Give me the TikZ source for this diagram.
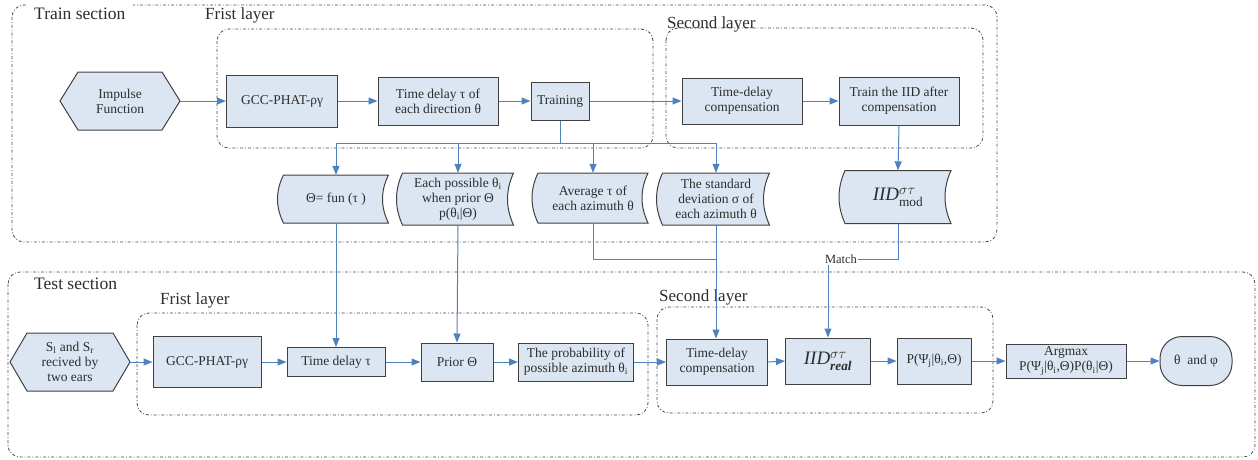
\documentclass[tikz,border=0pt]{standalone}
\usepackage{amsmath}
\usepackage{fontspec}
\setmainfont{Liberation Serif}
\newfontfamily\lserif{Liberation Serif}
\usetikzlibrary{arrows.meta,calc}
\definecolor{boxfill}{RGB}{220,230,242}
\definecolor{boxline}{RGB}{64,64,64}
\definecolor{arrowblue}{RGB}{79,129,189}
\definecolor{txt}{RGB}{45,45,45}
\definecolor{grp}{RGB}{70,70,70}
\tikzset{
  shapeline/.style={draw=boxline, line width=1pt, fill=boxfill},
  nodetext/.style={text=txt, align=center, inner sep=1pt, font=\lserif\fontsize{13.5}{15}\selectfont},
  proc/.style={shapeline, nodetext},
  arr/.style={draw=arrowblue, line width=1pt, -{Triangle[length=9pt,width=7pt]}},
  conn/.style={draw=arrowblue, line width=1pt},
  grpbox/.style={draw=grp, line width=0.8pt, dash dot, rounded corners=12pt},
  grplabel/.style={text=txt, font=\lserif\fontsize{17}{19}\selectfont, anchor=west, inner sep=2pt},
}
\newcommand{\mytape}[6]{%
  \draw[shapeline] ({#2-#4/2},{#3-#5/2}) -- ({#2+#4/2},{#3-#5/2})
    .. controls ({#2+#4/2-8},{#3-#5/6}) and ({#2+#4/2-8},{#3+#5/6}) .. ({#2+#4/2},{#3+#5/2})
    -- ({#2-#4/2},{#3+#5/2})
    .. controls ({#2-#4/2-8},{#3+#5/6}) and ({#2-#4/2-8},{#3-#5/6}) .. cycle;
  \node[nodetext, minimum width=#4pt, minimum height=#5pt] (#1) at (#2,#3) {#6};}
\newcommand{\myhex}[7]{%
  \draw[shapeline] ({#2-#4/2},#3) -- ({#2-#4/2+#6},{#3-#5/2}) -- ({#2+#4/2-#6},{#3-#5/2})
    -- ({#2+#4/2},#3) -- ({#2+#4/2-#6},{#3+#5/2}) -- ({#2-#4/2+#6},{#3+#5/2}) -- cycle;
  \node[nodetext, minimum width=#4pt, minimum height=#5pt] (#1) at (#2,#3) {#7};}
\newcommand{\sub}[1]{\textsubscript{#1}}
\begin{document}
\begin{tikzpicture}[x=1pt,y=-1pt]
\useasboundingbox (0,0) rectangle (1258,459);
% ---------- group boxes ----------
\draw[grpbox] (12,5) rectangle (997,242);
\node[grplabel, fill=white, inner xsep=8pt, inner ysep=5pt, font=\lserif\fontsize{17.5}{19}\selectfont] (trainlbl) at (26,14) {Train section};
\draw[grpbox] (217,29) rectangle (653,148);
\node[grplabel] (tfl) at (203,15) {Frist layer};
\draw[grpbox] (666,28) rectangle (983,148);
\node[grplabel] (tsl) at (665,24) {Second layer};

\draw[grpbox] (8,272) rectangle (1255,457);
\node[grplabel, fill=white, inner xsep=7pt, inner ysep=5pt, font=\lserif\fontsize{17.5}{19}\selectfont] (testlbl) at (27,284) {Test section};
\draw[grpbox] (137,313) rectangle (648,415);
\node[grplabel] (efl) at (158,300) {Frist layer};
\draw[grpbox] (657,307) rectangle (993,413);
\node[grplabel] (esl) at (657,297) {Second layer};

% ---------- train row ----------
\myhex{imp}{120}{101}{120}{58}{18}{Impulse\\Function}
\node[proc, minimum width=111pt, minimum height=52pt] (gcc1) at (282,101) {GCC-PHAT-ργ};
\node[proc, minimum width=120pt, minimum height=48pt] (td1) at (438,101) {Time delay τ of\\each direction θ};
\node[proc, minimum width=58pt, minimum height=38pt] (trn) at (560,101) {Training};
\node[proc, minimum width=120pt, minimum height=46pt] (tdc1) at (742,101) {Time-delay\\compensation};
\node[proc, minimum width=120pt, minimum height=48pt] (tiid) at (899,101) {Train the IID after\\compensation};

\mytape{tfun}{336}{199}{105}{48}{Θ= fun (τ )}
\mytape{each}{458}{199}{111}{52}{Each possible θ\sub{i}\\when prior Θ\\p(θ\sub{i}|Θ)}
\mytape{avg}{593}{198}{110}{50}{Average τ of\\each azimuth θ}
\mytape{std}{716}{199}{107}{52}{The standard\\deviation σ of\\each azimuth θ}
\mytape{iidmod}{898}{197}{106}{53}{\fontsize{19}{21}\selectfont$\mathit{IID}^{\sigma\tau}_{\mathrm{mod}}$}

% ---------- test row ----------
\myhex{sig}{70}{362}{120}{58}{17}{S\sub{l} and S\sub{r}\\recived by\\two ears}
\node[proc, minimum width=108pt, minimum height=51pt] (gcc2) at (207,362) {GCC-PHAT-ργ};
\node[proc, minimum width=98pt, minimum height=29pt] (td2) at (336,362) {Time delay τ};
\node[proc, minimum width=72pt, minimum height=38pt] (prior) at (457,362) {Prior Θ};
\node[proc, minimum width=115pt, minimum height=38pt] (prob) at (576,362) {The probability of\\possible azimuth θ\sub{i}};
\node[proc, minimum width=101pt, minimum height=46pt] (tdc2) at (717,362) {Time-delay\\compensation};
\node[proc, minimum width=85pt, minimum height=46pt] (iidreal) at (828,361) {\fontsize{19}{21}\selectfont$\mathit{IID}^{\sigma\tau}_{\text{\bfseries\itshape real}}$};
\node[proc, minimum width=74pt, minimum height=46pt] (pbox) at (934,361) {P(Ψ\sub{j}|θ\sub{i},Θ)};
\node[proc, minimum width=120pt, minimum height=34pt, inner sep=0pt] (argmax) at (1066,361) {Argmax\\P(Ψ\sub{j}|θ\sub{i},Θ)P(θ\sub{i}|Θ)};
\node[proc, minimum width=72pt, minimum height=49pt, rounded corners=22pt] (out) at (1196,361) {θ\ \ and φ};

\node[text=txt, font=\lserif\fontsize{12.5}{14}\selectfont, inner sep=1pt] (match) at (841,259) {Match};

% ---------- connectors: train ----------
\draw[arr] (imp.east) -- (gcc1.west);
\draw[arr] (gcc1.east) -- (td1.west);
\draw[arr] (td1.east) -- (trn.west);
\draw[arr] (trn.east) -- (tdc1.west);
\draw[arr] (tdc1.east) -- (tiid.west);
\draw[arr] (tiid.south) -- (iidmod.north);
\coordinate (bus) at (560,143);
\draw[conn] (trn.south) -- (bus);
\draw[arr] (bus) -| (tfun.north);
\draw[arr] (bus) -| (each.north);
\draw[arr] (bus) -| (avg.north);
\draw[arr] (bus) -| (std.north);

% ---------- connectors: between sections ----------
\draw[arr] (tfun.south) -- (td2.north);
\draw[arr] (each.south) -- (prior.north);
\coordinate (j2) at (716,259);
\draw[conn] (avg.south) |- (j2);
\draw[arr] (std.south) -- (std.south |- tdc2.north);
\draw[conn] (iidmod.south) |- (match.east);
\draw[arr] (match.south -| iidreal.north) -- (iidreal.north);

% ---------- connectors: test ----------
\draw[arr] (sig.east) -- (gcc2.west);
\draw[arr] (gcc2.east) -- (td2.west);
\draw[arr] (td2.east) -- (prior.west);
\draw[arr] (prior.east) -- (prob.west);
\draw[arr] (prob.east) -- (tdc2.west);
\draw[arr] (tdc2.east) -- (iidreal.west);
\draw[arr] (iidreal.east) -- (pbox.west);
\draw[arr] (pbox.east) -- (argmax.west);
\draw[arr] (argmax.east) -- (out.west);
\end{tikzpicture}
\end{document}
